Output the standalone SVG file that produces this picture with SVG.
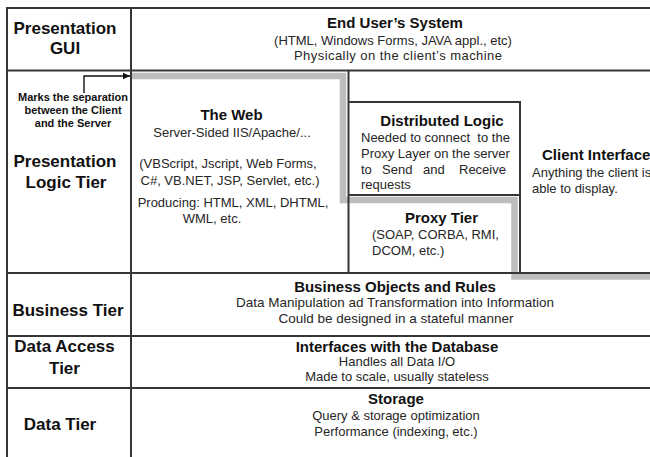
<svg xmlns="http://www.w3.org/2000/svg" width="650" height="457" viewBox="0 0 650 457">
  <defs>
    <marker id="arrowhead" markerWidth="8" markerHeight="8" refX="7" refY="4" orient="auto" markerUnits="userSpaceOnUse">
      <path d="M0,0.8 L7,4 L0,7.2 Z" fill="#111"/>
    </marker>
    <style>
      text { font-family: "Liberation Sans", Arial, Helvetica, sans-serif; fill: #1a1a1a; }
      .tier { font-size: 17px; font-weight: bold; text-anchor: middle; fill: #111; }
      .note { font-size: 11px; font-weight: bold; text-anchor: middle; fill: #111; }
      .head { font-size: 15px; font-weight: bold; text-anchor: middle; fill: #111; }
      .headL { font-size: 15px; font-weight: bold; fill: #111; }
      .body { font-size: 13px; text-anchor: middle; fill: #262626; }
      .bodyL { font-size: 13px; fill: #262626; }
      .wide { font-size: 13.5px; }
      .grid { stroke: #363636; stroke-width: 2; fill: none; }
      .boundary { stroke: #bdbdbd; stroke-width: 6.5; fill: none; stroke-linejoin: miter; }
      .connector { stroke: #111; stroke-width: 1.4; fill: none; }
    </style>
  </defs>

  <rect x="0" y="0" width="650" height="457" fill="#ffffff"/>

  <!-- client / server separation band -->
  <g id="client-server-boundary">
    <polyline class="boundary" points="131,76 343,76 343,200 514.5,200 514.5,276.5 652,276.5"/>
  </g>

  <!-- table frame and tier rows -->
  <g id="frame">
    <rect class="grid" x="7" y="8" width="660" height="470"/>
    <line class="grid" x1="131" y1="8" x2="131" y2="460"/>
    <line class="grid" x1="7" y1="70.5" x2="652" y2="70.5"/>
    <line class="grid" x1="7" y1="273" x2="652" y2="273"/>
    <line class="grid" x1="7" y1="336" x2="652" y2="336"/>
    <line class="grid" x1="7" y1="388" x2="652" y2="388"/>
  </g>

  <!-- tier labels -->
  <g id="label-presentation-gui">
    <text class="tier" x="65" y="33.5">Presentation</text>
    <text class="tier" x="65" y="54">GUI</text>
  </g>
  <g id="label-presentation-logic">
    <text class="note" x="73" y="101">Marks the separation</text>
    <text class="note" x="73" y="114">between the Client</text>
    <text class="note" x="73" y="127">and the Server</text>
    <text class="tier" x="65" y="167">Presentation</text>
    <text class="tier" x="66" y="187.5">Logic Tier</text>
  </g>
  <g id="label-business">
    <text class="tier" x="68" y="315.5">Business Tier</text>
  </g>
  <g id="label-data-access">
    <text class="tier" x="64.5" y="352">Data Access</text>
    <text class="tier" x="64.5" y="374">Tier</text>
  </g>
  <g id="label-data">
    <text class="tier" x="60" y="430">Data Tier</text>
  </g>

  <!-- End User's System -->
  <g id="end-user-system">
    <text class="head" x="395" y="28">End User’s System</text>
    <text class="body" x="393" y="44.5">(HTML, Windows Forms, JAVA appl., etc)</text>
    <text class="body" x="398" y="60" textLength="208">Physically on the client’s machine</text>
  </g>

  <!-- The Web -->
  <g id="the-web">
    <text class="head" x="231.5" y="120">The Web</text>
    <text class="body" x="232" y="137">Server-Sided IIS/Apache/...</text>
    <text class="body" x="228" y="168">(VBScript, Jscript, Web Forms,</text>
    <text class="body" x="230" y="185">C#, VB.NET, JSP, Servlet, etc.)</text>
    <text class="body" x="233" y="207">Producing: HTML, XML, DHTML,</text>
    <text class="body" x="212" y="223">WML, etc.</text>
  </g>

  <!-- Distributed Logic -->
  <g id="distributed-logic">
    <polyline class="grid" points="348.5,70.5 348.5,273"/>
    <polyline class="grid" points="348.5,102 520,102 520,273"/>
    <line class="grid" x1="348.5" y1="195" x2="520" y2="195"/>
    <text class="head" x="442" y="126">Distributed Logic</text>
    <text class="bodyL" x="361" y="142" xml:space="preserve">Needed to connect  to the</text>
    <text class="bodyL" x="361" y="158">Proxy Layer on the server</text>
    <text class="bodyL" y="173.5"><tspan x="361">to</tspan><tspan x="382">Send</tspan><tspan x="423">and</tspan><tspan x="459">Receive</tspan></text>
    <text class="bodyL" x="361" y="189">requests</text>
  </g>

  <!-- Proxy Tier -->
  <g id="proxy-tier">
    <text class="head" x="441.5" y="223">Proxy Tier</text>
    <text class="bodyL" x="372" y="239">(SOAP, CORBA, RMI,</text>
    <text class="bodyL" x="372" y="254.5">DCOM, etc.)</text>
  </g>

  <!-- Client Interface -->
  <g id="client-interface">
    <text class="headL" x="542" y="160">Client Interface</text>
    <text class="bodyL" x="532" y="177">Anything the client is</text>
    <text class="bodyL" x="532" y="192.5">able to display.</text>
  </g>

  <!-- Business Objects and Rules -->
  <g id="business-objects">
    <text class="head" x="395" y="291.5">Business Objects and Rules</text>
    <text class="body wide" x="395" y="307">Data Manipulation ad Transformation into Information</text>
    <text class="body wide" x="396" y="322.5">Could be designed in a stateful manner</text>
  </g>

  <!-- Interfaces with the Database -->
  <g id="database-interfaces">
    <text class="head" x="397" y="351.5">Interfaces with the Database</text>
    <text class="body" x="397" y="366">Handles all Data I/O</text>
    <text class="body" x="397" y="380.5">Made to scale, usually stateless</text>
  </g>

  <!-- Storage -->
  <g id="storage">
    <text class="head" x="396" y="404">Storage</text>
    <text class="body" x="396" y="420">Query &amp; storage optimization</text>
    <text class="body" x="396" y="435.5">Performance (indexing, etc.)</text>
  </g>

  <!-- connectors -->
  <g id="connectors">
    <polyline class="connector" points="84,93 84,76 130,76" marker-end="url(#arrowhead)"/>
  </g>
</svg>
